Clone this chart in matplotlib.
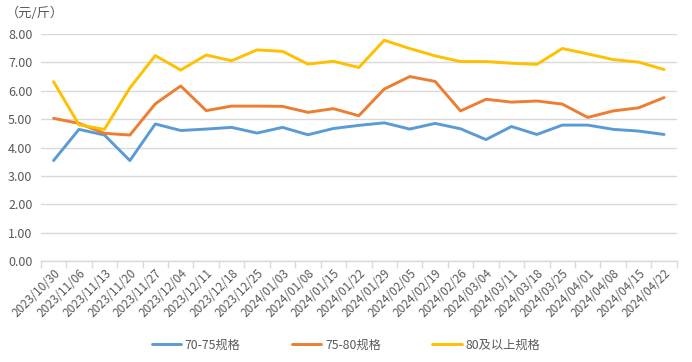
import matplotlib
matplotlib.use("Agg")
import matplotlib.pyplot as plt
from matplotlib.ticker import FixedLocator, FuncFormatter

plt.rcParams['font.family'] = ['Noto Sans CJK SC', 'DejaVu Sans']

dates = ["2023/10/30", "2023/11/06", "2023/11/13", "2023/11/20", "2023/11/27",
         "2023/12/04", "2023/12/11", "2023/12/18", "2023/12/25", "2024/01/03",
         "2024/01/08", "2024/01/15", "2024/01/22", "2024/01/29", "2024/02/05",
         "2024/02/19", "2024/02/26", "2024/03/04", "2024/03/11", "2024/03/18",
         "2024/03/25", "2024/04/01", "2024/04/08", "2024/04/15", "2024/04/22"]

s70_75 = [3.54, 4.64, 4.44, 3.54, 4.83, 4.60, 4.65, 4.71, 4.51, 4.71,
          4.45, 4.67, 4.78, 4.87, 4.65, 4.85, 4.66, 4.28, 4.74, 4.46,
          4.79, 4.79, 4.64, 4.58, 4.46]
s75_80 = [5.03, 4.85, 4.50, 4.44, 5.54, 6.17, 5.30, 5.46, 5.46, 5.45,
          5.24, 5.37, 5.12, 6.06, 6.50, 6.33, 5.29, 5.70, 5.60, 5.64,
          5.53, 5.06, 5.29, 5.40, 5.76]
s80_up = [6.32, 4.80, 4.64, 6.10, 7.24, 6.73, 7.26, 7.06, 7.44, 7.39,
          6.94, 7.04, 6.82, 7.78, 7.49, 7.23, 7.03, 7.03, 6.97, 6.93,
          7.49, 7.30, 7.10, 7.01, 6.75]

y_ticks = [0, 1, 2, 3, 4, 5, 6, 7, 8]
series_names = ["70-75规格", "75-80规格", "80及以上规格"]
colors = ["#5B9BD5", "#ED7D31", "#FFC000"]

fig = plt.figure(figsize=(6.92, 3.62), dpi=100)
ax = fig.add_axes([0.059, 0.279, 0.919, 0.627])

x = list(range(len(dates)))
for vals, name, c in zip([s70_75, s75_80, s80_up], series_names, colors):
    ax.plot(x, vals, color=c, lw=2.1, label=name, solid_capstyle='round', solid_joinstyle='round')

ax.set_xlim(-0.5, len(dates) - 0.5)
ax.set_ylim(0, 8)
ax.yaxis.set_major_locator(FixedLocator(y_ticks))
ax.yaxis.set_major_formatter(FuncFormatter(lambda v, p: f"{v:.2f}"))
ax.grid(axis='y', color='#d9d9d9', lw=1)
ax.set_axisbelow(True)

ax.set_xticks(x)
ax.set_xticklabels(dates, rotation=45, ha='right', va='top', rotation_mode='anchor',
                   fontsize=8.5, color='#595959')
ax.tick_params(axis='x', which='major', length=0, pad=4)
ax.xaxis.set_minor_locator(FixedLocator([i - 0.5 for i in range(len(dates) + 1)]))
ax.tick_params(axis='x', which='minor', length=5, color='#d9d9d9', width=1)
ax.tick_params(axis='y', length=0, labelsize=9, labelcolor='#595959', pad=6)

for sp in ['top', 'right', 'left']:
    ax.spines[sp].set_visible(False)
ax.spines['bottom'].set_color('#d9d9d9')
ax.spines['bottom'].set_linewidth(1)

fig.text(0.008, 0.962, "（元/斤）", fontsize=9.5, color='#595959', ha='left', va='center')

fig.legend(loc='center', bbox_to_anchor=(0.5, 0.047), ncol=3, frameon=False,
           fontsize=8.8, handlelength=2.4, columnspacing=4.2, handletextpad=0.3,
           labelcolor='#595959')

fig.savefig("out.png", dpi=100)
